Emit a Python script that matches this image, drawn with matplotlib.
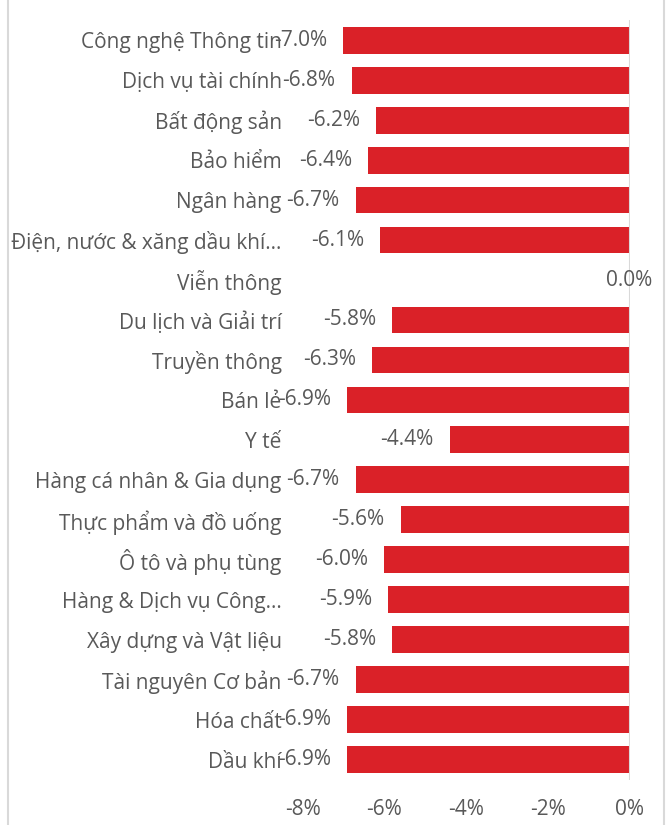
import matplotlib
matplotlib.use("Agg")
import matplotlib.pyplot as plt
from matplotlib.lines import Line2D
from matplotlib.ticker import FuncFormatter
import numpy as np

plt.rcParams['font.family'] = ['Open Sans', 'DejaVu Sans']

categories = [
    "Công nghệ Thông tin",
    "Dịch vụ tài chính",
    "Bất động sản",
    "Bảo hiểm",
    "Ngân hàng",
    "Điện, nước & xăng dầu khí...",
    "Viễn thông",
    "Du lịch và Giải trí",
    "Truyền thông",
    "Bán lẻ",
    "Y tế",
    "Hàng cá nhân & Gia dụng",
    "Thực phẩm và đồ uống",
    "Ô tô và phụ tùng",
    "Hàng & Dịch vụ Công...",
    "Xây dựng và Vật liệu",
    "Tài nguyên Cơ bản",
    "Hóa chất",
    "Dầu khí",
]
values = [-7.0, -6.8, -6.2, -6.4, -6.7, -6.1, 0.0, -5.8, -6.3, -6.9,
          -4.4, -6.7, -5.6, -6.0, -5.9, -5.8, -6.7, -6.9, -6.9]
xticks = [-8, -6, -4, -2, 0]

W, H = 666, 825
fig = plt.figure(figsize=(W / 100, H / 100), dpi=100)
ax = fig.add_axes([302.5 / W, (H - 779.5) / H, (629.5 - 302.5) / W, (779.5 - 20.3) / H])

TXT = '#595959'
RED = '#DA2128'
FS = 15

y = np.arange(len(categories))
ax.barh(y, values, height=0.67, color=RED)
ax.set_ylim(len(categories) - 0.5, -0.5)
ax.set_xlim(-8, 0)
ax.set_yticks(y)
ax.set_yticklabels(categories, fontsize=FS, color=TXT)
ax.set_xticks(xticks)
ax.xaxis.set_major_formatter(FuncFormatter(lambda v, p: f"{v:.0f}%"))
for lab in ax.get_xticklabels():
    lab.set_fontsize(FS)
    lab.set_color(TXT)
ax.tick_params(axis='y', length=0, pad=15)
ax.tick_params(axis='x', length=0, pad=14)
for s in ax.spines.values():
    s.set_visible(False)
ax.axvline(0, color='#D9D9D9', lw=1.5, zorder=3)

for yi, v in zip(y, values):
    if v == 0:
        ax.annotate(f"{v:.1f}%", (v, yi), xytext=(0, 0), textcoords='offset points',
                    ha='center', va='center', fontsize=FS, color=TXT, zorder=4)
    else:
        ax.annotate(f"{v:.1f}%", (v, yi), xytext=(-11.5, 0), textcoords='offset points',
                    ha='right', va='center', fontsize=FS, color=TXT, zorder=4)

for xp in (7.5, 664):
    fig.add_artist(Line2D([xp / W, xp / W], [0, 1], color='#D9D9D9', lw=1.5))

fig.savefig("out.png", dpi=100)
